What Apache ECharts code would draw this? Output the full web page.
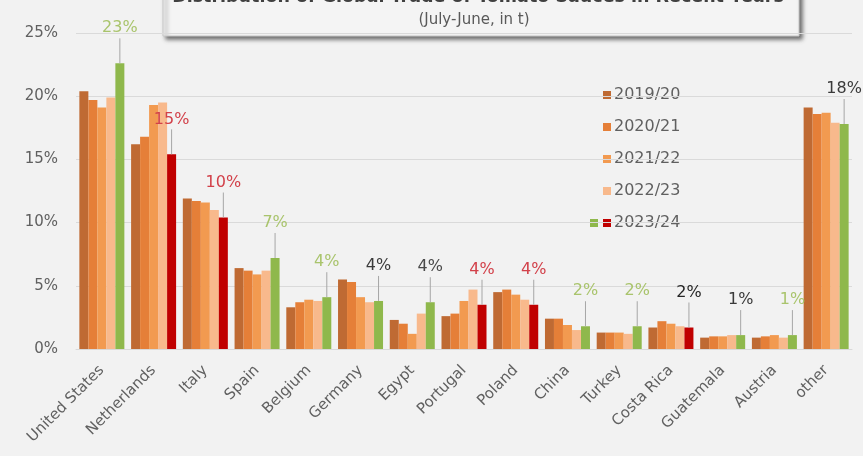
<!DOCTYPE html>
<html>
<head>
<meta charset="utf-8">
<script src="https://cdn.jsdelivr.net/npm/echarts@6/dist/echarts.min.js"></script>
<style>
  html, body { margin: 0; padding: 0; background: #f2f2f2; }
  #chart { width: 863px; height: 456px; }
</style>
</head>
<body>
<div id="chart"></div>
<script>
// Share of global tomato sauce trade by country (% of tonnes), July-June years
const countries = ['United States', 'Netherlands', 'Italy', 'Spain', 'Belgium', 'Germany', 'Egypt',
  'Portugal', 'Poland', 'China', 'Turkey', 'Costa Rica', 'Guatemala', 'Austria', 'other'];
const seasons = ['2019/20', '2020/21', '2021/22', '2022/23', '2023/24'];

const share1920 = [20.4, 16.2, 11.9, 6.4, 3.3, 5.5, 2.3, 2.6, 4.5, 2.4, 1.3, 1.7, 0.9, 0.9, 19.1];
const share2021 = [19.7, 16.8, 11.7, 6.2, 3.7, 5.3, 2.0, 2.8, 4.7, 2.4, 1.3, 2.2, 1.0, 1.0, 18.6];
const share2122 = [19.1, 19.3, 11.6, 5.9, 3.9, 4.1, 1.2, 3.8, 4.3, 1.9, 1.3, 2.0, 1.0, 1.1, 18.7];
const share2223 = [19.9, 19.5, 11.0, 6.2, 3.8, 3.7, 2.8, 4.7, 3.9, 1.5, 1.2, 1.8, 1.1, 0.9, 17.9];
const share2324 = [22.6, 15.4, 10.4, 7.2, 4.1, 3.8, 3.7, 3.5, 3.5, 1.8, 1.8, 1.7, 1.1, 1.1, 17.8];

const yTicks = [0, 5, 10, 15, 20, 25];

// Styling
const seasonColors = ['#bf6a33', '#e57f38', '#f29a50', '#f8b98c'];
const latestGreen = '#8fb84c';
const latestRed = '#c00000';
const redCountries = ['Netherlands', 'Italy', 'Portugal', 'Poland', 'Costa Rica'];
const labelTone = {
  'United States': '#a9c46c', 'Netherlands': '#d2414a', 'Italy': '#d2414a', 'Spain': '#a9c46c',
  'Belgium': '#a9c46c', 'Germany': '#3a3a3a', 'Egypt': '#4a4a4a', 'Portugal': '#d2414a',
  'Poland': '#d2414a', 'China': '#a9c46c', 'Turkey': '#a9c46c', 'Costa Rica': '#262626',
  'Guatemala': '#3a3a3a', 'Austria': '#a9c46c', 'other': '#3a3a3a'
};
const FONT = '"DejaVu Sans", "Liberation Sans", sans-serif';
const CAT_GAP = 0.13;

const historic = [share1920, share2021, share2122, share2223];

const barSeries = historic.map((vals, k) => ({
  name: seasons[k],
  type: 'bar',
  data: vals,
  barGap: '0%',
  barCategoryGap: (CAT_GAP * 100) + '%',
  itemStyle: { color: seasonColors[k] },
  emphasis: { disabled: true }
}));

barSeries.push({
  name: seasons[4],
  type: 'bar',
  barGap: '0%',
  barCategoryGap: (CAT_GAP * 100) + '%',
  itemStyle: { color: latestGreen },
  data: share2324.map((v, i) => ({
    value: v,
    itemStyle: { color: redCountries.includes(countries[i]) ? latestRed : latestGreen }
  })),
  emphasis: { disabled: true }
});

// Value callouts over the latest season, with a thin leader line down to the bar
const lastOffset = -(1 - CAT_GAP) / 2 + (1 - CAT_GAP) / 5 * 4.5;
barSeries.push({
  name: 'callouts',
  type: 'custom',
  data: share2324.map((v, i) => [i, v]),
  encode: { x: 0, y: 1 },
  z: 5,
  silent: true,
  renderItem: function (params, api) {
    const i = api.value(0);
    const v = api.value(1);
    const pt = api.coord([i, v]);
    const band = api.size([1, 0])[0];
    const x = pt[0] + band * lastOffset;
    const ly = pt[1] - 35;
    return {
      type: 'group',
      children: [
        { type: 'line', shape: { x1: x, y1: pt[1], x2: x, y2: ly + 10 },
          style: { stroke: '#a6a6a6', lineWidth: 1 } },
        { type: 'text', x: x, y: ly,
          style: { text: Math.round(v) + '%', fill: labelTone[countries[i]],
                   font: '16px ' + FONT, align: 'center', verticalAlign: 'middle' } }
      ]
    };
  }
});

// Hand-built legend: the latest season carries both of its bar colours
const legendItems = [];
seasons.forEach((name, k) => {
  const y = 95 + 32 * k;
  const color = k < 4 ? seasonColors[k] : latestRed;
  legendItems.push({ type: 'rect', shape: { x: 603, y: y - 4, width: 8, height: 8 }, style: { fill: color } });
  if (k === 4) {
    legendItems.push({ type: 'rect', shape: { x: 590, y: y - 4, width: 8, height: 8 }, style: { fill: latestGreen } });
  }
  legendItems.push({
    type: 'text', x: 614, y: y,
    style: { text: name, font: '16px ' + FONT, fill: '#606060', verticalAlign: 'middle' }
  });
});

const chart = echarts.init(document.getElementById('chart'));
chart.setOption({
  backgroundColor: '#f2f2f2',
  animation: false,
  textStyle: { fontFamily: FONT },
  grid: { left: 76, right: 11, top: 33, bottom: 107 },
  xAxis: {
    type: 'category',
    data: countries,
    axisTick: { show: false },
    axisLine: { lineStyle: { color: '#d9d9d9' } },
    axisLabel: { interval: 0, rotate: 45, color: '#606060', fontSize: 15, margin: 19, fontFamily: FONT }
  },
  yAxis: {
    type: 'value',
    min: yTicks[0],
    max: yTicks[yTicks.length - 1],
    interval: yTicks[1] - yTicks[0],
    axisLabel: { formatter: '{value}%', color: '#606060', fontSize: 15, margin: 18, fontFamily: FONT },
    splitLine: { lineStyle: { color: '#dadada' } },
    axisLine: { show: false },
    axisTick: { show: false }
  },
  graphic: [
    { type: 'group', z: 20, children: legendItems },
    {
      type: 'group',
      z: 10,
      children: [
        {
          type: 'rect',
          shape: { x: 163, y: -24, width: 636, height: 60 },
          style: {
            fill: '#f4f4f4', stroke: '#c8c8c8', lineWidth: 1,
            shadowBlur: 4, shadowOffsetX: 3, shadowOffsetY: 3, shadowColor: 'rgba(0,0,0,0.55)'
          }
        },
        {
          type: 'text',
          x: 478, y: 6,
          style: {
            text: 'Distribution of Global Trade of Tomato Sauces in Recent Years',
            font: 'bold 17.5px ' + FONT, fill: '#404040', align: 'center', verticalAlign: 'bottom'
          }
        },
        {
          type: 'text',
          x: 474, y: 20,
          style: {
            text: '(July-June, in t)',
            font: '15px ' + FONT, fill: '#595959', align: 'center', verticalAlign: 'middle'
          }
        }
      ]
    }
  ],
  series: barSeries
});
</script>
</body>
</html>
